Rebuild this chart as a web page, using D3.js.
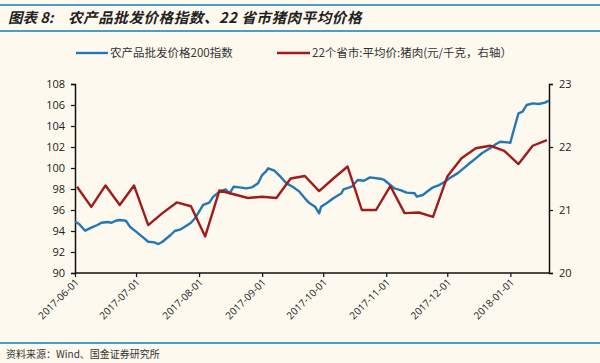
<!DOCTYPE html>
<html>
<head>
<meta charset="utf-8">
<script src="https://cdn.jsdelivr.net/npm/d3@7"></script>
<style>
  body { margin: 0; background: #fdf9ef; }
  svg { display: block; font-family: "Noto Sans CJK SC", "Noto Sans", sans-serif; }
</style>
</head>
<body>
<svg id="chart" width="600" height="363"></svg>
<script>
// blue: 农产品批发价格200指数 (left axis)
const idxDates = ["2017-06-01","2017-06-03","2017-06-06","2017-06-09","2017-06-12","2017-06-14","2017-06-17","2017-06-19",
  "2017-06-21","2017-06-23","2017-06-26","2017-06-28","2017-07-01","2017-07-04","2017-07-07","2017-07-10","2017-07-12",
  "2017-07-14","2017-07-18","2017-07-20","2017-07-23","2017-07-25","2017-07-28","2017-07-30","2017-08-01","2017-08-03",
  "2017-08-06","2017-08-08","2017-08-11","2017-08-14","2017-08-16","2017-08-18","2017-08-21","2017-08-24","2017-08-27",
  "2017-08-30","2017-09-01","2017-09-03","2017-09-04","2017-09-07","2017-09-10","2017-09-13","2017-09-16","2017-09-19",
  "2017-09-22","2017-09-24","2017-09-27","2017-09-29","2017-09-30","2017-10-03","2017-10-06","2017-10-10","2017-10-11",
  "2017-10-15","2017-10-18","2017-10-21","2017-10-24","2017-10-29","2017-10-31","2017-11-03","2017-11-05","2017-11-08",
  "2017-11-11","2017-11-15","2017-11-16","2017-11-19","2017-11-21","2017-11-24","2017-11-27","2017-11-30","2017-12-02",
  "2017-12-06","2017-12-09","2017-12-12","2017-12-15","2017-12-18","2017-12-22","2017-12-25","2017-12-27","2018-01-01",
  "2018-01-02","2018-01-05","2018-01-07","2018-01-09","2018-01-12","2018-01-15","2018-01-18","2018-01-20"];
const idxValues = [94.89,94.67,94.03,94.32,94.57,94.79,94.86,94.79,
  94.98,95.05,94.98,94.41,93.94,93.46,92.98,92.92,92.76,
  92.98,93.62,94.0,94.16,94.41,94.79,95.21,95.84,96.48,
  96.70,97.27,97.74,97.97,97.59,98.22,98.16,98.06,98.16,
  98.54,99.33,99.71,99.97,99.74,99.17,98.54,98.22,97.80,
  97.11,96.70,96.32,95.68,96.32,96.70,97.11,97.59,97.97,
  98.22,98.86,98.79,99.11,98.98,98.86,98.38,98.06,97.90,
  97.65,97.59,97.27,97.43,97.74,98.16,98.38,98.70,99.02,
  99.49,99.97,100.45,100.92,101.40,101.88,102.29,102.50,102.41,
  103.14,105.21,105.36,106.0,106.16,106.10,106.22,106.41];

// red: 22个省市:平均价:猪肉 (right axis, weekly)
const porkDates = ["2017-06-02","2017-06-09","2017-06-16","2017-06-23","2017-06-30","2017-07-07","2017-07-14","2017-07-21",
  "2017-07-28","2017-08-04","2017-08-11","2017-08-18","2017-08-25","2017-09-01","2017-09-08","2017-09-15","2017-09-22",
  "2017-09-29","2017-10-06","2017-10-13","2017-10-20","2017-10-27","2017-11-03","2017-11-10","2017-11-17","2017-11-24",
  "2017-12-01","2017-12-08","2017-12-15","2017-12-22","2017-12-29","2018-01-05","2018-01-12","2018-01-19"];
const porkValues = [21.37,21.05,21.39,21.08,21.39,20.76,20.95,21.12,
  21.06,20.58,21.31,21.25,21.19,21.21,21.19,21.50,21.54,
  21.30,21.50,21.69,21.00,21.00,21.38,20.95,20.96,20.89,
  21.53,21.82,21.98,22.02,21.94,21.73,22.02,22.11];

const xTicks = ["2017-06-01","2017-07-01","2017-08-01","2017-09-01","2017-10-01","2017-11-01","2017-12-01","2018-01-01"];
const leftTicks = [90,92,94,96,98,100,102,104,106,108];
const rightTicks = [20,21,22,23];

const parse = d3.timeParse("%Y-%m-%d");
const svg = d3.select("#chart");

svg.append("rect").attr("width",600).attr("height",363).attr("fill","#fdf9ef");

// header / footer rules
const ruleColor = "#4a9ec6";
[5,31,343].forEach(y => {
  svg.append("line").attr("x1",0).attr("x2",600).attr("y1",y).attr("y2",y)
    .attr("stroke",ruleColor).attr("stroke-width",2);
});

const title = svg.append("text").attr("y",23)
  .attr("font-size",14.5).attr("font-weight","bold").attr("font-style","italic").attr("fill","#222");
title.append("tspan").attr("x",8).text("图表 8:");
title.append("tspan").attr("x",68).attr("letter-spacing",0.6).text("农产品批发价格指数、22 省市猪肉平均价格");

svg.append("text").attr("x",6).attr("y",358)
  .attr("font-size",10).attr("fill","#333")
  .text("资料来源：Wind、国金证券研究所");

const x = d3.scaleTime().domain([parse("2017-06-01"), parse("2018-01-20")]).range([75,549]);
const yL = d3.scaleLinear().domain([90,108]).range([273,84]);
const yR = d3.scaleLinear().domain([20,23]).range([273,84]);

// axes
const gL = svg.append("g").attr("transform","translate(75,0)")
  .call(d3.axisLeft(yL).tickValues(leftTicks).tickSize(4).tickPadding(6));
const gR = svg.append("g").attr("transform","translate(549,0)")
  .call(d3.axisRight(yR).tickValues(rightTicks).tickFormat(d3.format("d")).tickSize(4).tickPadding(6));
const gX = svg.append("g").attr("transform","translate(0,273)")
  .call(d3.axisBottom(x).tickValues(xTicks.map(parse)).tickSize(4).tickFormat(d3.timeFormat("%Y-%m-%d")));

[gL,gR,gX].forEach(g => {
  g.select(".domain").attr("stroke","#111").attr("stroke-width",1.5);
  g.selectAll(".tick line").attr("stroke","#111").attr("stroke-width",1.2);
  g.selectAll("text").attr("fill","#222").attr("font-size",11)
    .attr("font-family","'Open Sans','DejaVu Sans',sans-serif");
});
gX.select(".domain").attr("d","M75,0H549");
gX.selectAll("text").attr("font-size",10)
  .attr("text-anchor","end").attr("dy",null).attr("y",0)
  .attr("transform","translate(4,10) rotate(-45)");

// lines
const idxData = idxDates.map((d,i) => ({date: parse(d), v: idxValues[i]}));
const porkData = porkDates.map((d,i) => ({date: parse(d), v: porkValues[i]}));

svg.append("path").datum(idxData)
  .attr("fill","none").attr("stroke","#2477b5").attr("stroke-width",2.4).attr("stroke-linejoin","round")
  .attr("d", d3.line().x(d => x(d.date)).y(d => yL(d.v)));

svg.append("path").datum(porkData)
  .attr("fill","none").attr("stroke","#a11a1c").attr("stroke-width",2.4).attr("stroke-linejoin","round")
  .attr("d", d3.line().x(d => x(d.date)).y(d => yR(d.v)));

// legend
const legend = [
  {label:"农产品批发价格200指数", color:"#2477b5", x1:76, x2:108},
  {label:"22个省市:平均价:猪肉(元/千克，右轴）", color:"#a11a1c", x1:277, x2:310}
];
legend.forEach(l => {
  svg.append("line").attr("x1",l.x1).attr("x2",l.x2).attr("y1",53).attr("y2",53)
    .attr("stroke",l.color).attr("stroke-width",2.4);
  svg.append("text").attr("x",l.x2+2).attr("y",57).attr("font-size",11.5).attr("fill","#333")
    .text(l.label);
});
</script>
</body>
</html>
